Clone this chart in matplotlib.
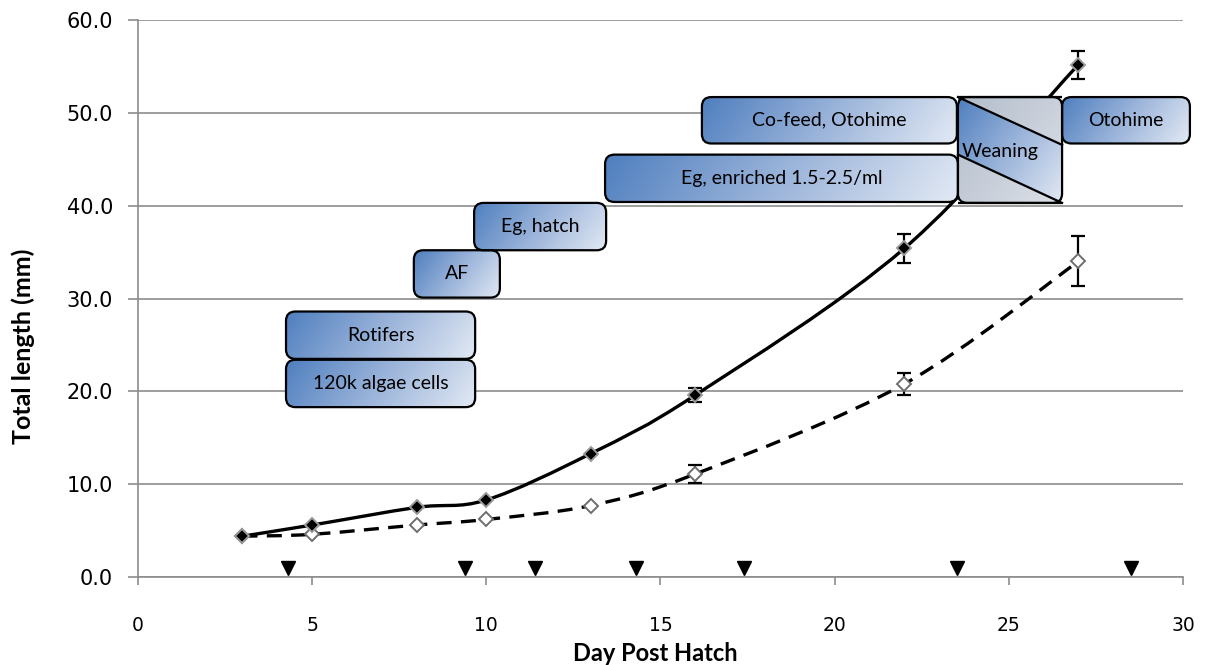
import numpy as np
import matplotlib
matplotlib.use("Agg")
import matplotlib.pyplot as plt
from matplotlib.patches import FancyBboxPatch, Polygon, PathPatch
from matplotlib.path import Path
from matplotlib.colors import LinearSegmentedColormap

plt.rcParams['font.family'] = ['Lato', 'DejaVu Sans']

# growth data (mean total length, mm) with error bars
days = [3, 5, 8, 10, 13, 16, 22, 27]
tl_a = [4.4, 5.6, 7.5, 8.3, 13.3, 19.6, 35.4, 55.2]
err_a = [0, 0, 0, 0, 0, 0.8, 1.6, 1.5]
tl_b = [4.4, 4.6, 5.6, 6.2, 7.7, 11.1, 20.8, 34.0]
err_b = [0, 0, 0, 0, 0, 1.0, 1.2, 2.7]

# sampling days marked along the bottom
sample_days = [4.3, 9.4, 11.4, 14.3, 17.4, 23.5, 28.5]
sample_y = 1.0

# feeding regime boxes: label, x0, x1, y0, y1
feed_labels = ["120k algae cells", "Rotifers", "AF", "Eg, hatch",
               "Eg, enriched 1.5-2.5/ml", "Co-feed, Otohime", "Otohime"]
feed_x0 = [4.25, 4.25, 7.92, 9.65, 13.41, 16.19, 26.53]
feed_x1 = [9.68, 9.68, 10.39, 13.44, 23.54, 23.51, 30.2]
feed_y0 = [18.3, 23.5, 30.1, 35.2, 40.4, 46.7, 46.7]
feed_y1 = [23.4, 28.6, 35.2, 40.3, 45.5, 51.7, 51.7]
wean_x = [23.54, 26.53]
wean_y = [40.3, 51.7]
wean_cut = [46.55, 45.5]  # where the diagonals meet the right / left side

fig = plt.figure(figsize=(12.05, 6.65), dpi=100)
ax = fig.add_axes([0.1145, 0.1323, 0.8672, 0.8376])
ax.set_xlim(0, 30)
ax.set_ylim(0, 60)

# pixels per data unit, used to keep box corners round
px_x = 0.8672 * 1205 / 30
px_y = 0.8376 * 665 / 60
aspect = px_x / px_y


def smooth_path(x, y):
    # catmull-rom style bezier through the points, like a smoothed excel line
    pts = np.column_stack([x, y]).astype(float)
    n = len(pts)
    verts = [pts[0]]
    codes = [Path.MOVETO]
    for i in range(n - 1):
        p0 = pts[i - 1] if i > 0 else pts[i]
        p1 = pts[i]
        p2 = pts[i + 1]
        p3 = pts[i + 2] if i + 2 < n else pts[i + 1]
        c1 = p1 + (p2 - p0) / 6
        c2 = p2 - (p3 - p1) / 6
        verts += [c1, c2, p2]
        codes += [Path.CURVE4] * 3
    return Path(verts, codes)


blue = LinearSegmentedColormap.from_list("fill", ["#4f7fbf", "#9bb4da", "#e2e9f4"])
grey = LinearSegmentedColormap.from_list("grey", ["#b3bdcb", "#c7ced9", "#dde1e8"])
gy, gx = np.mgrid[0:1:60j, 0:1:200j]


def gradient(x0, x1, y0, y1):
    w = (x1 - x0) * px_x
    h = (y1 - y0) * px_y
    return (gx * w * 1.4 + gy * h) / (w * 1.4 + h)


def grad_box(x0, x1, y0, y1, text, cmap=blue, z=5):
    box = FancyBboxPatch((x0, y0), x1 - x0, y1 - y0,
                         boxstyle="round,pad=0,rounding_size=0.27",
                         mutation_aspect=aspect,
                         facecolor="none", edgecolor="black", lw=1.6,
                         zorder=z + 1, clip_on=False)
    ax.add_patch(box)
    im = ax.imshow(gradient(x0, x1, y0, y1), cmap=cmap, extent=(x0, x1, y0, y1),
                   origin="upper", aspect="auto", zorder=z, interpolation="bilinear")
    im.set_clip_path(box)
    im.set_clip_box(fig.bbox)
    if text:
        ax.text((x0 + x1) / 2, (y0 + y1) / 2, text, ha="center", va="center",
                fontsize=14, zorder=z + 2, clip_on=False)
    return box


ax.set_axisbelow(True)
ax.yaxis.grid(True, color="#8c8c8c", lw=1.2)
for s in ["top", "right"]:
    ax.spines[s].set_visible(False)
for s in ["left", "bottom"]:
    ax.spines[s].set_color("#8c8c8c")
    ax.spines[s].set_linewidth(1.2)
ax.set_xticks(range(0, 31, 5))
ax.set_yticks(range(0, 61, 10))
ax.set_yticklabels([f"{v:.1f}" for v in range(0, 61, 10)],
                   fontfamily="DejaVu Sans", fontsize=15)
ax.set_xticklabels([str(v) for v in range(0, 31, 5)],
                   fontfamily="DejaVu Sans", fontsize=13.5)
ax.tick_params(colors="#8c8c8c", width=1.2, labelcolor="black")
ax.tick_params(axis="y", length=7, pad=11)
ax.tick_params(axis="x", length=6, pad=22)
ax.set_xlabel("Day Post Hatch", fontsize=17, fontweight="bold")
ax.xaxis.set_label_coords(0.495, -0.116)
ax.set_ylabel("Total length (mm)", fontsize=18, fontweight="bold")
ax.yaxis.set_label_coords(-0.099, 0.415)

# growth curves
ax.add_patch(PathPatch(smooth_path(days, tl_b), facecolor="none", edgecolor="black",
                       lw=2.4, linestyle=(0, (4.5, 2.8)), zorder=3))
ax.add_patch(PathPatch(smooth_path(days, tl_a), facecolor="none", edgecolor="black",
                       lw=2.4, zorder=3))
ax.errorbar(days, tl_b, yerr=err_b, fmt="none", ecolor="black", elinewidth=1.6,
            capsize=5, capthick=1.6, zorder=4)
ax.errorbar(days, tl_a, yerr=err_a, fmt="none", ecolor="black", elinewidth=1.6,
            capsize=5, capthick=1.6, zorder=4)
ax.plot(days, tl_b, linestyle="none", marker="D", ms=7.5, mfc="white",
        mec="#6e6e6e", mew=1.4, zorder=4.5)
ax.plot(days, tl_a, linestyle="none", marker="D", ms=7.5, mfc="black",
        mec="#9a9a9a", mew=1.4, zorder=4.5)

ax.plot(sample_days, [sample_y] * len(sample_days), linestyle="none", marker="v",
        ms=10, color="black", zorder=4)

for lab, x0, x1, y0, y1 in zip(feed_labels, feed_x0, feed_x1, feed_y0, feed_y1):
    grad_box(x0, x1, y0, y1, lab)

# weaning box: grey with a blue band between two diagonals
wx0, wx1 = wean_x
wy0, wy1 = wean_y
grad_box(wx0, wx1, wy0, wy1, None, cmap=grey, z=5)
ax.plot([wx0, wx1], [wy0, wy0], color="black", lw=1.6, zorder=6,
        solid_capstyle="butt")
ax.plot([wx0, wx1], [wy1, wy1], color="black", lw=1.6, zorder=6,
        solid_capstyle="butt")
band = Polygon([(wx0, wy1), (wx1, wean_cut[0]), (wx1, wy0), (wx0, wean_cut[1])],
               closed=True, facecolor="none", edgecolor="none")
ax.add_patch(band)
wim = ax.imshow(gradient(wx0, wx1, wy0, wy1), cmap=blue, extent=(wx0, wx1, wy0, wy1),
                origin="upper", aspect="auto", zorder=5.5, interpolation="bilinear")
wim.set_clip_path(band)
ax.plot([wx0, wx1], [wy1, wean_cut[0]], color="black", lw=1.6, zorder=6.5)
ax.plot([wx0, wx1], [wean_cut[1], wy0], color="black", lw=1.6, zorder=6.5)
ax.text(wx0 + 0.12, (wy0 + wy1) / 2 - 0.2, "Weaning", ha="left", va="center",
        fontsize=14, zorder=7)

fig.savefig("out.png", dpi=100)
